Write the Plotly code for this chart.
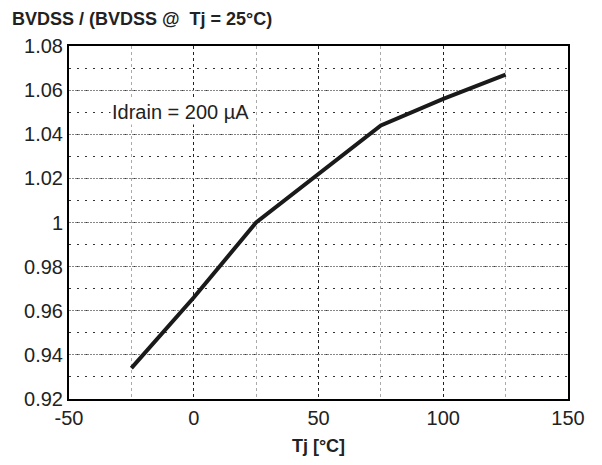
import plotly.graph_objects as go

tj = [-25, 0, 25, 50, 75, 100, 125]
ratio = [0.934, 0.966, 1.0, 1.022, 1.044, 1.056, 1.067]
x_ticks = [-50, 0, 50, 100, 150]
y_ticks = [0.92, 0.94, 0.96, 0.98, 1.0, 1.02, 1.04, 1.06, 1.08]
y_ticklabels = ["0.92", "0.94", "0.96", "0.98", "1", "1.02", "1.04", "1.06", "1.08"]

font_family = "Liberation Sans, Arial, sans-serif"

fig = go.Figure()
fig.add_trace(go.Scatter(x=tj, y=ratio, mode="lines",
                         line=dict(color="#1a1a1a", width=4), showlegend=False))

fig.update_xaxes(range=[-50, 150], tickvals=x_ticks, ticktext=[str(v) for v in x_ticks],
                 showgrid=True, gridcolor="#222", gridwidth=1, griddash="dot",
                 minor=dict(dtick=25, tick0=-25, showgrid=True, gridcolor="#aaa", griddash="dot", gridwidth=1),
                 showline=True, linecolor="black", linewidth=2, mirror=True,
                 ticks="", tickfont=dict(size=20, color="#222", family=font_family),
                 zeroline=False, automargin=False,
                 title=dict(text="<b>Tj [°C]</b>", font=dict(size=18, color="#222", family=font_family), standoff=11))
fig.update_yaxes(range=[0.92, 1.08], tickvals=y_ticks, ticktext=y_ticklabels,
                 showgrid=True, gridcolor="#888", gridwidth=1, griddash="2px,1px",
                 minor=dict(dtick=0.01, tick0=0.93, showgrid=True, gridcolor="#333", griddash="2px,6px", gridwidth=1),
                 showline=True, linecolor="black", linewidth=2, mirror=True,
                 ticks="", tickfont=dict(size=20, color="#222", family=font_family),
                 zeroline=False, automargin=False)

fig.add_annotation(x=-5.5, y=1.05, text="Idrain = 200 µA", showarrow=False,
                   font=dict(size=20, color="#222", family=font_family), bgcolor="white")

fig.add_annotation(xref="paper", yref="paper", x=-0.116, y=1.1076, xanchor="left", yanchor="top",
                   borderpad=0,
                   text="<b>BVDSS / (BVDSS @  Tj = 25°C)</b>", showarrow=False,
                   font=dict(size=18, color="#222", family=font_family))

fig.update_layout(width=602, height=465, margin=dict(l=61, r=42, t=38, b=74),
                  plot_bgcolor="white", paper_bgcolor="white")

fig.write_html("out.html")
